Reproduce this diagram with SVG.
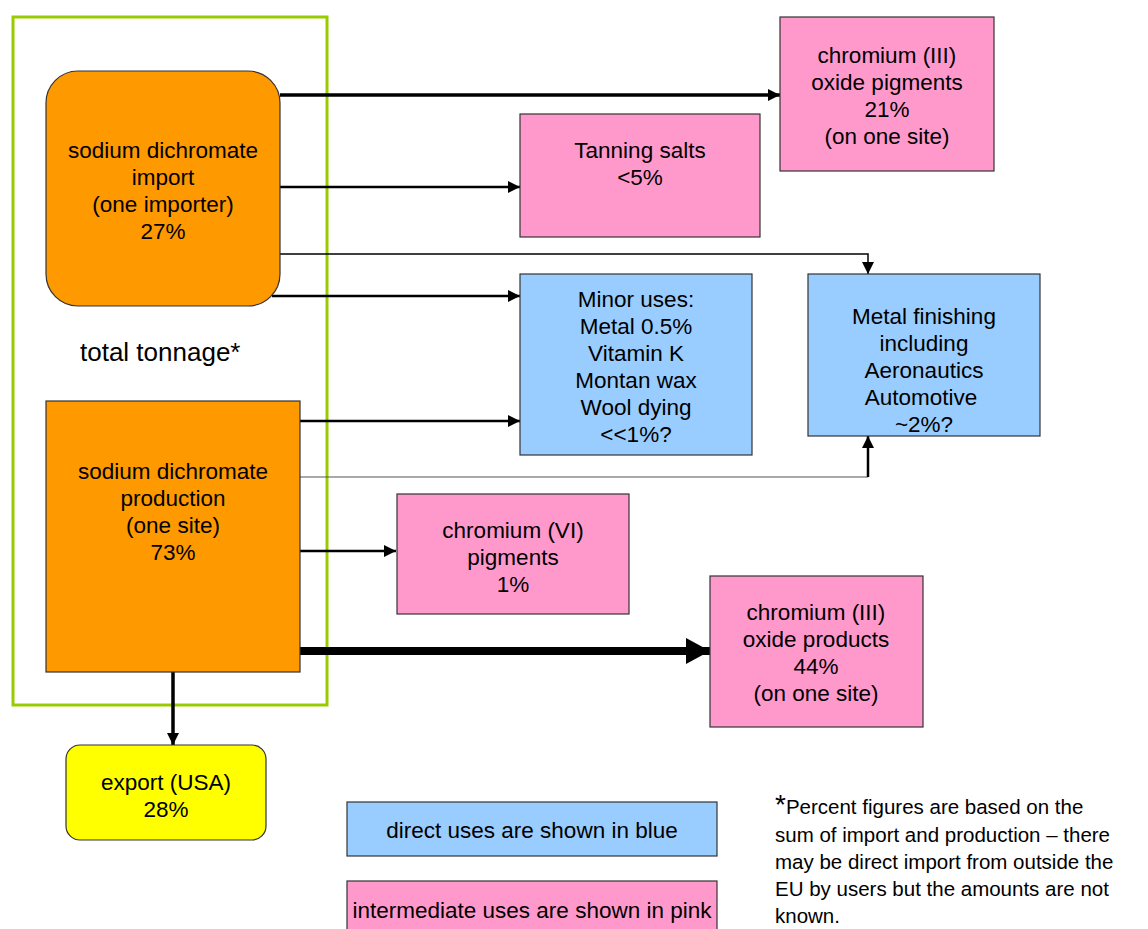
<svg xmlns="http://www.w3.org/2000/svg" width="1148" height="929" viewBox="0 0 1148 929">
<defs>
<marker id="ah" markerUnits="userSpaceOnUse" viewBox="0 0 12 12" refX="12" refY="6" markerWidth="12" markerHeight="12" orient="auto"><path d="M0,0 L12,6 L0,12 Z" fill="#000"/></marker>
<marker id="ahbig" markerUnits="userSpaceOnUse" viewBox="0 0 24 26" refX="24" refY="13" markerWidth="24" markerHeight="26" orient="auto"><path d="M0,0 L24,13 L0,26 Z" fill="#000"/></marker>
</defs>
<style>
.t{font-family:"Liberation Sans",Arial,sans-serif;font-size:22.5px;fill:#000;text-anchor:middle}
.box{stroke:#333;stroke-width:1.2}
.pink{fill:#ff99cc}.blue{fill:#99ccff}.orange{fill:#ff9900}.yellow{fill:#ffff00}
.c{fill:none;stroke:#000}
</style>
<rect x="13" y="17" width="314" height="688" fill="none" stroke="#99cc00" stroke-width="3"/>
<g id="connectors">
<line class="c" x1="280" y1="95" x2="780" y2="95" stroke-width="3.5" marker-end="url(#ah)"/>
<line class="c" x1="280" y1="187" x2="520" y2="187" stroke-width="2.5" marker-end="url(#ah)"/>
<polyline class="c" points="280,254 868,254 868,274" stroke-width="1.5" marker-end="url(#ah)"/>
<line class="c" x1="272" y1="296" x2="520" y2="296" stroke-width="2.5" marker-end="url(#ah)"/>
<line class="c" x1="300" y1="421" x2="520" y2="421" stroke-width="2.5" marker-end="url(#ah)"/>
<polyline points="300,477 868,477" fill="none" stroke="#555" stroke-width="1.2"/>
<line class="c" x1="868" y1="477" x2="868" y2="436" stroke-width="2.5" marker-end="url(#ah)"/>
<line class="c" x1="300" y1="551" x2="396" y2="551" stroke-width="2.5" marker-end="url(#ah)"/>
<line class="c" x1="300" y1="651" x2="710" y2="651" stroke-width="8" marker-end="url(#ahbig)"/>
<line class="c" x1="173" y1="672" x2="173" y2="745" stroke-width="3.5" marker-end="url(#ah)"/>
</g>
<g id="import">
<rect class="box orange" x="46" y="71" width="234" height="235" rx="32"/>
<text class="t" x="163" y="158">sodium dichromate</text>
<text class="t" x="163" y="185">import</text>
<text class="t" x="163" y="212">(one importer)</text>
<text class="t" x="163" y="239">27%</text>
</g>
<text x="80" y="361" style="font-family:'Liberation Sans',Arial,sans-serif;font-size:26px">total tonnage*</text>
<g id="production">
<rect class="box orange" x="46" y="401" width="254" height="271"/>
<text class="t" x="173" y="479">sodium dichromate</text>
<text class="t" x="173" y="506">production</text>
<text class="t" x="173" y="533">(one site)</text>
<text class="t" x="173" y="560">73%</text>
</g>
<g id="cr3pigments">
<rect class="box pink" x="780" y="17" width="214" height="154"/>
<text class="t" x="887" y="63">chromium (III)</text>
<text class="t" x="887" y="90">oxide pigments</text>
<text class="t" x="887" y="117">21%</text>
<text class="t" x="887" y="144">(on one site)</text>
</g>
<g id="tanning">
<rect class="box pink" x="520" y="114" width="240" height="123"/>
<text class="t" x="640" y="158">Tanning salts</text>
<text class="t" x="640" y="185">&lt;5%</text>
</g>
<g id="minor">
<rect class="box blue" x="520" y="274" width="232" height="181"/>
<text class="t" x="636" y="307">Minor uses:</text>
<text class="t" x="636" y="334">Metal 0.5%</text>
<text class="t" x="636" y="361">Vitamin K</text>
<text class="t" x="636" y="388">Montan wax</text>
<text class="t" x="636" y="415">Wool dying</text>
<text class="t" x="636" y="442">&lt;&lt;1%?</text>
</g>
<g id="metal">
<rect class="box blue" x="808" y="274" width="232" height="162"/>
<text class="t" x="924" y="324">Metal finishing</text>
<text class="t" x="924" y="351">including</text>
<text class="t" x="924" y="378">Aeronautics</text>
<text class="t" x="921" y="405">Automotive</text>
<text class="t" x="924" y="432">~2%?</text>
</g>
<g id="cr6">
<rect class="box pink" x="397" y="494" width="232" height="120"/>
<text class="t" x="513" y="538">chromium (VI)</text>
<text class="t" x="513" y="565">pigments</text>
<text class="t" x="513" y="592">1%</text>
</g>
<g id="cr3products">
<rect class="box pink" x="710" y="576" width="213" height="151"/>
<text class="t" x="816" y="620">chromium (III)</text>
<text class="t" x="816" y="647">oxide products</text>
<text class="t" x="816" y="674">44%</text>
<text class="t" x="816" y="701">(on one site)</text>
</g>
<g id="export">
<rect class="box yellow" x="66" y="745" width="200" height="95" rx="14"/>
<text class="t" x="166" y="790">export (USA)</text>
<text class="t" x="166" y="817">28%</text>
</g>
<g id="legend-blue">
<rect class="box blue" x="347" y="802" width="370" height="54"/>
<text class="t" x="532" y="838">direct uses are shown in blue</text>
</g>
<g id="legend-pink">
<rect class="box pink" x="347" y="881" width="370" height="52"/>
<text class="t" x="532" y="918">intermediate uses are shown in pink</text>
</g>
<g id="footnote" style="font-family:'Liberation Sans',Arial,sans-serif;font-size:20.5px">
<text x="775" y="814"><tspan font-size="28">*</tspan>Percent figures are based on the</text>
<text x="775" y="842">sum of import and production – there</text>
<text x="775" y="869">may be direct import from outside the</text>
<text x="775" y="896">EU by users but the amounts are not</text>
<text x="775" y="923">known.</text>
</g>
</svg>
